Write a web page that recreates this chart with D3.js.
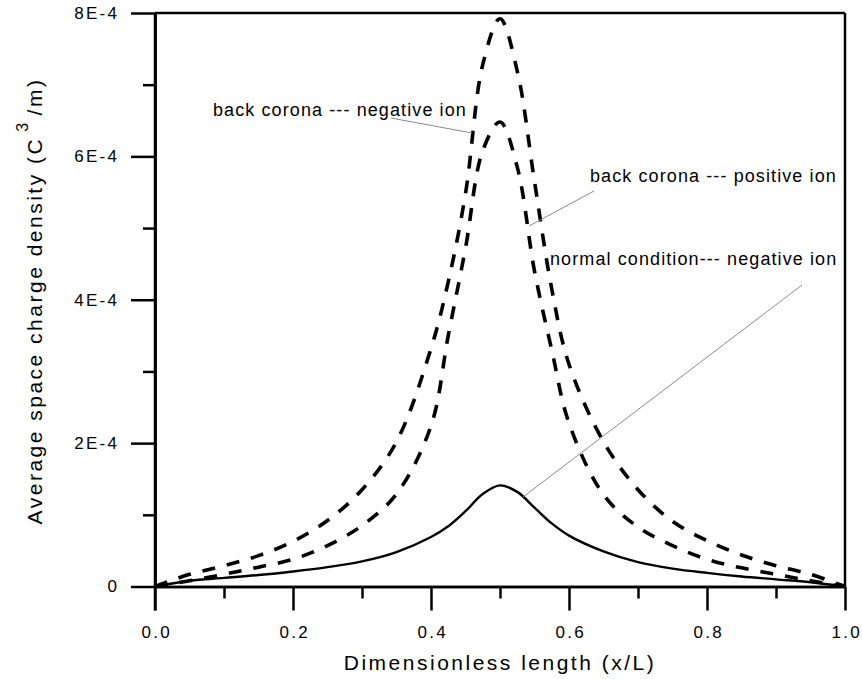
<!DOCTYPE html>
<html>
<head>
<meta charset="utf-8">
<script src="https://cdn.jsdelivr.net/npm/d3@7"></script>
<style>
  html, body { margin: 0; padding: 0; background: #fff; }
  svg { display: block; font-family: "Liberation Sans", Arial, sans-serif; }
</style>
</head>
<body>
<svg id="chart" width="862" height="679"></svg>
<script>
// Dimensionless position along the duct (x/L)
const positions = [0, 0.05, 0.1, 0.15, 0.2, 0.25, 0.3, 0.35, 0.4, 0.425, 0.45, 0.475, 0.5,
                   0.525, 0.55, 0.575, 0.6, 0.65, 0.7, 0.75, 0.8, 0.85, 0.9, 0.95, 1.0];

// Average space charge density, in units of 1E-4 C/m^3
const backCoronaNegative = [0, 0.17, 0.29, 0.43, 0.63, 0.92, 1.35, 2.02, 3.32, 4.25, 5.48, 7.28, 7.92,
                            7.19, 5.65, 4.15, 3.1, 2.02, 1.35, 0.91, 0.64, 0.44, 0.29, 0.17, 0];
const backCoronaPositive = [0, 0.08, 0.17, 0.27, 0.38, 0.57, 0.85, 1.29, 2.24, 3.5, 4.72, 6.08, 6.48,
                            5.85, 4.4, 3.3, 2.28, 1.28, 0.83, 0.57, 0.38, 0.26, 0.17, 0.08, 0];
const normalNegative     = [0, 0.08, 0.12, 0.16, 0.21, 0.27, 0.35, 0.48, 0.69, 0.84, 1.05, 1.29, 1.41,
                            1.32, 1.1, 0.88, 0.71, 0.49, 0.34, 0.25, 0.19, 0.14, 0.10, 0.06, 0];

const xTicks = [0, 0.2, 0.4, 0.6, 0.8, 1.0];
const xMinorTicks = [0.1, 0.3, 0.5, 0.7, 0.9];
const yTicks = [0, 2e-4, 4e-4, 6e-4, 8e-4];
const yTickLabels = ["0", "2E-4", "4E-4", "6E-4", "8E-4"];
const yMinorTicks = [1e-4, 3e-4, 5e-4, 7e-4];

const svg = d3.select("#chart");
svg.append("rect").attr("width", 862).attr("height", 679).attr("fill", "#fff");

const plotLeft = 155, plotRight = 845, plotTop = 13, plotBottom = 586.5;
const x = d3.scaleLinear().domain([0, 1]).range([plotLeft, plotRight]);
const y = d3.scaleLinear().domain([0, 8e-4]).range([plotBottom, plotTop]);

const AXW = 2.5;
const tickFont = { size: "17px", ls: "2.3px" };

// Frame: top and right edges
svg.append("line").attr("x1", plotLeft).attr("x2", plotRight).attr("y1", plotTop).attr("y2", plotTop)
  .attr("stroke", "#000").attr("stroke-width", AXW);
svg.append("line").attr("x1", plotRight).attr("x2", plotRight).attr("y1", plotTop).attr("y2", plotBottom)
  .attr("stroke", "#000").attr("stroke-width", AXW);

// Left axis: minor then major ticks
const yMinor = svg.append("g").attr("transform", `translate(${plotLeft},0)`)
  .call(d3.axisLeft(y).tickValues(yMinorTicks).tickSize(12).tickSizeOuter(0).tickFormat(""));
const yAxis = svg.append("g").attr("transform", `translate(${plotLeft},0)`)
  .call(d3.axisLeft(y).tickValues(yTicks).tickSize(24).tickSizeOuter(0).tickPadding(14)
    .tickFormat((d, i) => yTickLabels[i]));

// Bottom axis: minor then major ticks
const xMinor = svg.append("g").attr("transform", `translate(0,${plotBottom})`)
  .call(d3.axisBottom(x).tickValues(xMinorTicks).tickSize(12).tickSizeOuter(0).tickFormat(""));
const xAxis = svg.append("g").attr("transform", `translate(0,${plotBottom})`)
  .call(d3.axisBottom(x).tickValues(xTicks).tickSize(24).tickSizeOuter(0).tickPadding(15)
    .tickFormat(d3.format(".1f")));

// Left axis line continues down to the end of the bottom tick marks
svg.append("line").attr("x1", plotLeft).attr("x2", plotLeft).attr("y1", plotTop).attr("y2", plotBottom + 24)
  .attr("stroke", "#000").attr("stroke-width", AXW);

[yMinor, yAxis, xMinor, xAxis].forEach(g => {
  g.select(".domain").attr("stroke", "#000").attr("stroke-width", AXW);
  g.selectAll(".tick line").attr("stroke", "#000").attr("stroke-width", AXW);
  g.selectAll(".tick text")
    .attr("font-family", "'Liberation Sans', Arial, sans-serif")
    .attr("font-size", tickFont.size)
    .attr("letter-spacing", tickFont.ls)
    .attr("fill", "#000");
});
yAxis.selectAll(".tick text").attr("dx", "2.3px");
xAxis.selectAll(".tick text").attr("dx", "1.2px");

// Curves
const line = d3.line()
  .x(d => x(d[0]))
  .y(d => y(d[1] * 1e-4))
  .curve(d3.curveCatmullRom.alpha(0.5));

const series = [
  { values: backCoronaNegative, dash: "13 12", width: 3.6 },
  { values: backCoronaPositive, dash: "13 12", width: 3.6 },
  { values: normalNegative, dash: null, width: 2.4 }
];
series.forEach(s => {
  svg.append("path")
    .datum(positions.map((p, i) => [p, s.values[i]]))
    .attr("d", line)
    .attr("fill", "none")
    .attr("stroke", "#000")
    .attr("stroke-width", s.width)
    .attr("stroke-dasharray", s.dash);
});

// Annotations with leader lines
const notes = [
  { text: "back corona --- negative ion", tx: 213, ty: 116, lx1: 391, ly1: 118, lx2: 472, ly2: 133 },
  { text: "back corona --- positive ion", tx: 590, ty: 182, lx1: 594, ly1: 191, lx2: 529, ly2: 226 },
  { text: "normal condition--- negative ion", tx: 550, ty: 265, lx1: 802, ly1: 285, lx2: 523, ly2: 497 }
];
notes.forEach(n => {
  svg.append("line").attr("x1", n.lx1).attr("y1", n.ly1).attr("x2", n.lx2).attr("y2", n.ly2)
    .attr("stroke", "#8a8a8a").attr("stroke-width", 1);
  svg.append("text").attr("x", n.tx).attr("y", n.ty)
    .attr("font-size", "18px").attr("letter-spacing", "1.1px").attr("fill", "#000")
    .text(n.text);
});

// Axis titles
svg.append("text")
  .attr("x", (plotLeft + plotRight) / 2).attr("y", 670)
  .attr("text-anchor", "middle")
  .attr("font-size", "21px").attr("letter-spacing", "2.5px")
  .text("Dimensionless length (x/L)");

const yTitle = svg.append("text")
  .attr("transform", "translate(42,301) rotate(-90)")
  .attr("text-anchor", "middle")
  .attr("font-size", "21px").attr("letter-spacing", "2.5px");
yTitle.append("tspan").text("Average space charge density (C");
yTitle.append("tspan").attr("dy", -14).attr("dx", 5).attr("font-size", "16px").text("3");
yTitle.append("tspan").attr("dy", 14).attr("dx", 5).text("/m)");
</script>
</body>
</html>
